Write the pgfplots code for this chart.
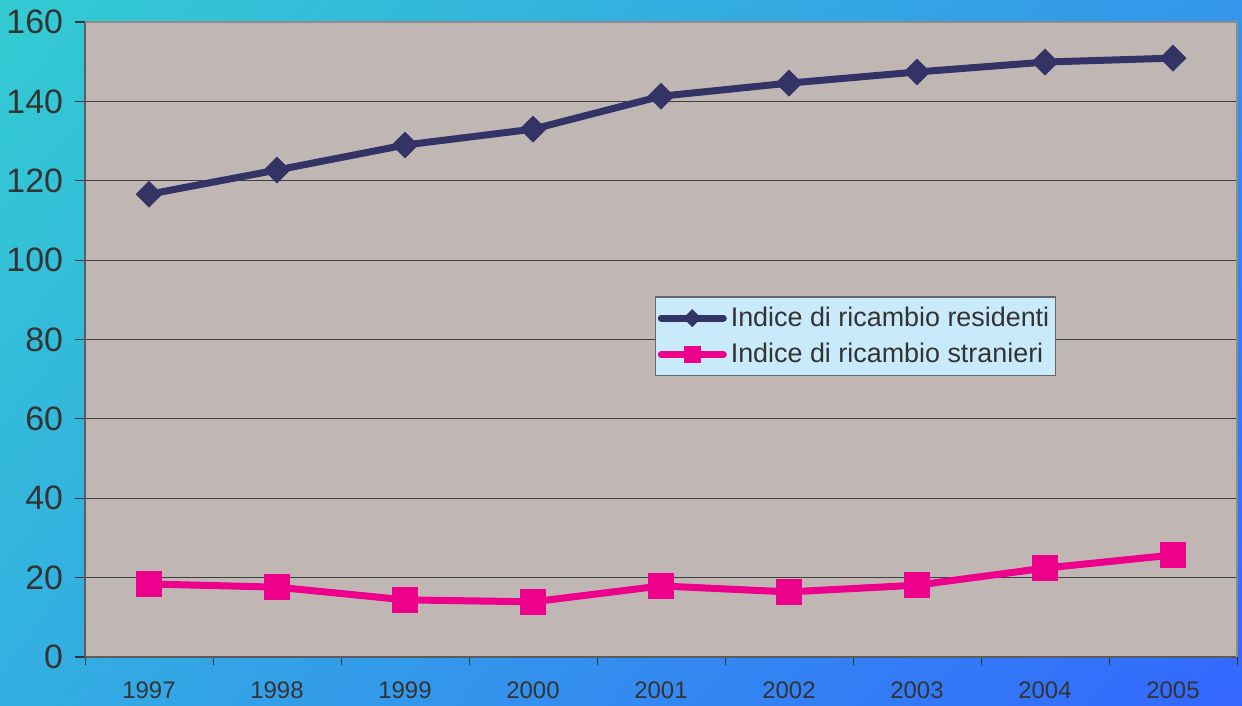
\documentclass[border=0pt]{standalone}
\usepackage{pgfplots}
\pgfplotsset{compat=1.18}
\usetikzlibrary{shadings}
\usepackage{fontspec}
\setmainfont{Liberation Sans}
\definecolor{resid}{RGB}{51,51,102}
\definecolor{stran}{RGB}{236,0,140}
\definecolor{plotbg}{RGB}{192,183,180}
\definecolor{legbg}{RGB}{200,234,250}
\definecolor{txt}{RGB}{51,51,51}
\definecolor{bgul}{RGB}{51,204,210}
\definecolor{bgur}{RGB}{51,150,235}
\definecolor{bgll}{RGB}{51,175,225}
\definecolor{bglr}{RGB}{51,102,255}
\begin{document}
\begin{tikzpicture}
\shade[upper left=bgul, upper right=bgur, lower left=bgll, lower right=bglr]
  (0,0) rectangle (621bp,353bp);
\useasboundingbox (0,0) rectangle (621bp,353bp);
\begin{axis}[
  at={(42.5bp,24.5bp)}, anchor=south west,
  scale only axis, width=576bp, height=317.5bp,
  xmin=-0.5, xmax=8.5, ymin=0, ymax=160,
  axis background/.style={fill=plotbg},
  axis x line*=bottom, axis y line*=left,
  axis line style={draw=txt!80, line width=0.8pt, -},
  xtick={0,...,8},
  xticklabels={1997,1998,1999,2000,2001,2002,2003,2004,2005},
  minor xtick={-0.5,0.5,...,8.5},
  major x tick style={draw=none},
  minor x tick style={draw=txt, line width=0.5pt},
  ytick={0,20,...,160},
  ymajorgrids,
  grid style={draw=black!75, line width=0.5pt},
  tick align=outside,
  major tick length=5bp, minor tick length=4bp,
  y tick style={draw=txt, line width=0.6pt},
  /pgf/number format/assume math mode=true,
  yticklabel style={font=\fontsize{17}{20}\selectfont, text=txt, xshift=-2.5bp},
  xticklabel style={font=\fontsize{12}{14}\selectfont, text=txt, yshift=-4bp},
  legend style={at={(rel axis cs:0.495,0.568)}, anchor=north west,
    fill=legbg, draw=black!60, line width=0.6pt,
    font=\fontsize{13.5}{16}\selectfont, text=txt,
    inner xsep=1pt, inner ysep=3pt, row sep=3pt, cells={anchor=west}},
  legend image code/.code={%
    \draw[mark repeat=2,mark phase=2,line cap=round,#1,/tikz/every mark/.append style={scale=0.65}] plot coordinates {(0bp,0bp) (15.5bp,0bp) (31bp,0bp)};},
  clip=false,
]
\draw[draw=black!45, line width=0.6pt] (rel axis cs:0,1) -- (rel axis cs:1,1) -- (rel axis cs:1,0);
\addplot[resid, line width=3.5bp, mark=square*, mark size=4.5bp, mark options={solid,rotate=45,fill=resid,line width=0.5pt}]
  coordinates {(0,116.6) (1,122.7) (2,129.0) (3,133.0) (4,141.3) (5,144.6) (6,147.4) (7,149.9) (8,150.9)};
\addlegendentry{Indice di ricambio residenti}
\addplot[stran, line width=3.5bp, mark=square*, mark size=6.3bp, mark options={solid,fill=stran,line width=0.5pt}]
  coordinates {(0,18.4) (1,17.6) (2,14.4) (3,13.9) (4,17.9) (5,16.4) (6,18.1) (7,22.4) (8,25.7)};
\addlegendentry{Indice di ricambio stranieri}
\end{axis}
\end{tikzpicture}
\end{document}
